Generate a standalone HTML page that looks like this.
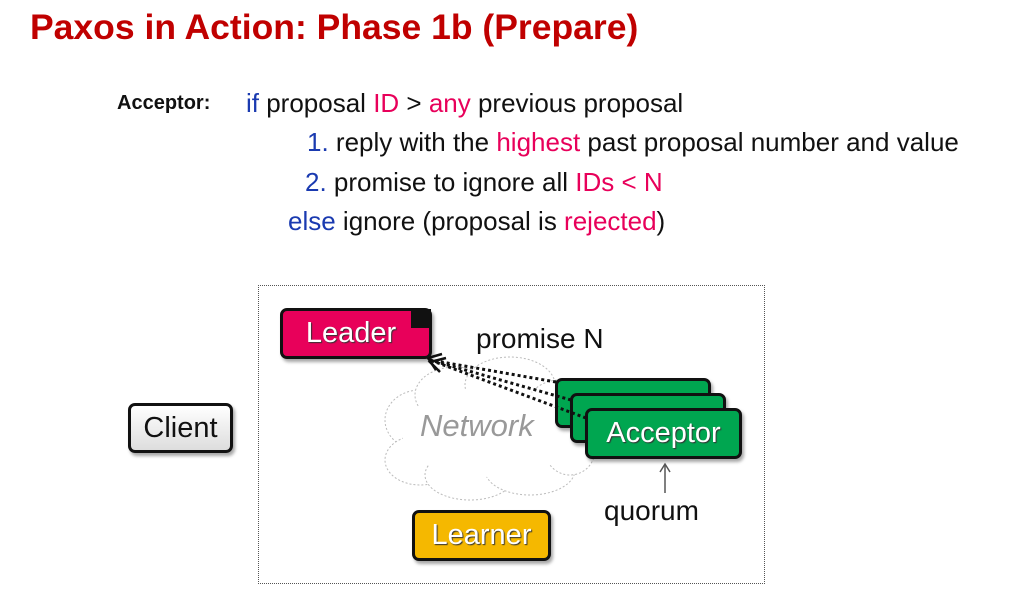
<!DOCTYPE html>
<html><head><meta charset="utf-8"><style>
body{margin:0;width:1024px;height:598px;background:#fff;position:relative;overflow:hidden;font-family:"Liberation Sans",sans-serif}
.a{position:absolute;white-space:nowrap}
.t{font-size:26px;color:#111}
.p{color:#e8005a}.b{color:#1a3ab0}
.box{position:absolute;border:3px solid #111;border-radius:7px;box-sizing:border-box;color:#fff;font-size:29px;text-align:center;text-shadow:1px 1px 1px #333;box-shadow:2px 3px 3px rgba(0,0,0,.35)}
</style></head><body>
<div class="a" style="left:30px;top:7px;font-size:35.5px;font-weight:bold;color:#c00000">Paxos in Action: Phase 1b (Prepare)</div>
<div class="a" style="left:117px;top:92px;font-size:20px;font-weight:bold;color:#111">Acceptor:</div>
<div class="a t" style="left:246px;top:88px"><span class="b">if</span> proposal <span class="p">ID</span> &gt; <span class="p">any</span> previous proposal</div>
<div class="a t" style="left:307px;top:127px"><span class="b">1.</span> reply with the <span class="p">highest</span> past proposal number and value</div>
<div class="a t" style="left:305px;top:167px"><span class="b">2.</span> promise to ignore all <span class="p">IDs &lt; N</span></div>
<div class="a t" style="left:288px;top:206px"><span class="b">else</span> ignore (proposal is <span class="p">rejected</span>)</div>
<div class="a" style="left:258px;top:285px;width:507px;height:299px;border:1px dotted #555;box-sizing:border-box"></div>
<svg class="a" style="left:0;top:0" width="1024" height="598">
<g fill="#fff" stroke="#bbb" stroke-dasharray="2,2">
<ellipse cx="420" cy="420" rx="35" ry="30"/><ellipse cx="455" cy="395" rx="40" ry="28"/><ellipse cx="510" cy="385" rx="45" ry="28"/><ellipse cx="560" cy="410" rx="35" ry="30"/>
<ellipse cx="420" cy="460" rx="35" ry="25"/><ellipse cx="470" cy="475" rx="45" ry="25"/><ellipse cx="530" cy="470" rx="45" ry="25"/><ellipse cx="570" cy="450" rx="25" ry="25"/>
</g>
<ellipse cx="490" cy="432" rx="88" ry="45" fill="#fff"/>
</svg>
<div class="a" style="left:420px;top:408px;font-size:31px;font-style:italic;color:#999">Network</div>
<div class="box" style="left:555px;top:378px;width:156px;height:50px;background:#00a650"></div>
<div class="box" style="left:570px;top:393px;width:156px;height:50px;background:#00a650"></div>
<div class="box" style="left:585px;top:408px;width:157px;height:51px;background:#00a650;line-height:44px">Acceptor</div>
<svg class="a" style="left:0;top:0" width="1024" height="598">
<g stroke="#111" stroke-width="3" stroke-dasharray="3,3" fill="none">
<line x1="556" y1="382" x2="430" y2="360"/><line x1="571" y1="400" x2="430" y2="360"/><line x1="586" y1="418" x2="430" y2="360"/>
</g>
<g stroke="#111" stroke-width="2.5" fill="none"><path d="M442 354 L428 358 L436 370"/><path d="M446 358 L430 362 L440 372"/></g>
<line x1="665" y1="493" x2="665" y2="465" stroke="#555" stroke-width="1.5"/><path d="M660 472 L665 464 L670 472" stroke="#555" fill="none" stroke-width="1.5"/>
</svg>
<div class="box" style="left:280px;top:308px;width:152px;height:51px;background:#e8005a;line-height:44px;padding-right:10px">Leader</div>
<div class="a" style="left:411px;top:309px;width:20px;height:19px;background:#111"></div>
<div class="box" style="left:128px;top:403px;width:105px;height:50px;background:linear-gradient(#fff,#ddd);color:#111;text-shadow:none;line-height:44px">Client</div>
<div class="box" style="left:412px;top:510px;width:139px;height:51px;background:#f5b800;line-height:44px">Learner</div>
<div class="a" style="left:476px;top:323px;font-size:28px;color:#111">promise N</div>
<div class="a" style="left:604px;top:495px;font-size:28px;color:#111">quorum</div>
</body></html>
